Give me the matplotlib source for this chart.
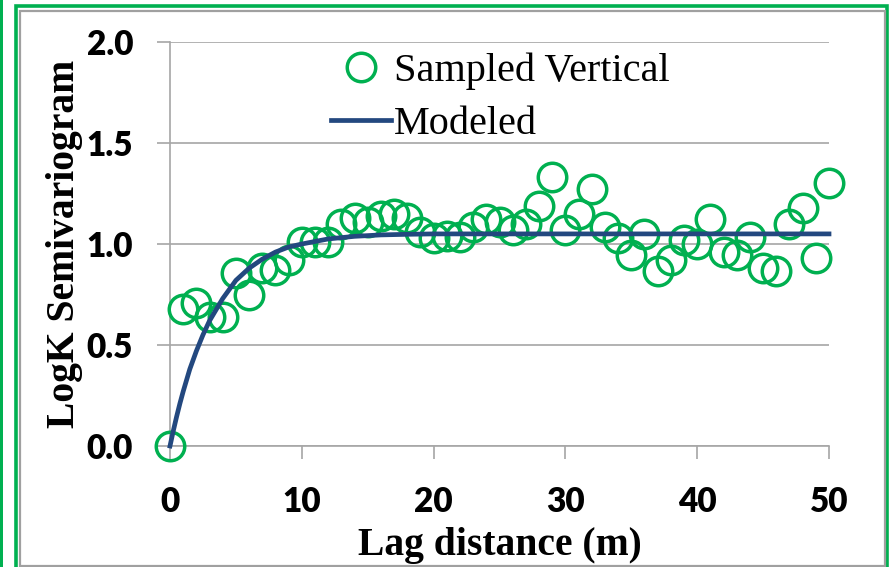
import matplotlib.pyplot as plt
from matplotlib.patches import Rectangle

# sampled semivariogram
lag = [0, 1, 2, 3, 4, 5, 6, 7, 8, 9, 10, 11, 12, 13, 14, 15, 16, 17, 18, 19,
       20, 21, 22, 23, 24, 25, 26, 27, 28, 29, 30, 31, 32, 33, 34, 35, 36, 37,
       38, 39, 40, 41, 42, 43, 44, 45, 46, 47, 48, 49, 50]
gamma = [0.0, 0.68, 0.71, 0.64, 0.64, 0.855, 0.75, 0.88, 0.87, 0.92, 1.01,
         1.01, 1.01, 1.10, 1.13, 1.11, 1.14, 1.15, 1.13, 1.06, 1.03, 1.04,
         1.035, 1.085, 1.125, 1.11, 1.07, 1.10, 1.19, 1.33, 1.07, 1.15, 1.27,
         1.085, 1.03, 0.945, 1.05, 0.865, 0.92, 1.02, 1.0, 1.125, 0.96, 0.945,
         1.035, 0.88, 0.865, 1.10, 1.18, 0.93, 1.30]

# modeled curve
model_lag = [0, 0.25, 0.5, 0.75, 1, 1.5, 2, 2.5, 3, 4, 5, 6, 7, 8, 9, 10,
             12, 14, 16, 18, 20, 30, 40, 50]
model_gamma = [0.0, 0.075, 0.145, 0.21, 0.27, 0.38, 0.47, 0.55, 0.62, 0.73,
               0.82, 0.88, 0.925, 0.96, 0.985, 1.0, 1.025, 1.038, 1.045,
               1.048, 1.05, 1.05, 1.05, 1.05]

xticks = [0, 10, 20, 30, 40, 50]
yticks = [0.0, 0.5, 1.0, 1.5, 2.0]

green = "#00B050"
navy = "#23487F"
grid_gray = "#A6A6A6"

fig = plt.figure(figsize=(8.91, 5.67), dpi=100)
ax = fig.add_axes([170 / 891, 1 - 446 / 567, 659 / 891, 404 / 567])

ax.plot(lag, gamma, linestyle="none", marker="o", markersize=20.5,
        markerfacecolor="none", markeredgecolor=green, markeredgewidth=2.5,
        label="Sampled Vertical", zorder=3, clip_on=False)
ax.plot(model_lag, model_gamma, color=navy, linewidth=3.4,
        label="Modeled", zorder=4, clip_on=False)

ax.set_xlim(0, 50)
ax.set_ylim(0, 2)
ax.set_xticks(xticks)
ax.set_yticks(yticks)
ax.set_xticklabels([str(t) for t in xticks])
ax.set_yticklabels([f"{t:.1f}" for t in yticks])

ax.grid(axis="y", color=grid_gray, linewidth=1.2)
ax.set_axisbelow(True)
for s in ["top", "right"]:
    ax.spines[s].set_visible(False)
for s in ["left", "bottom"]:
    ax.spines[s].set_color(grid_gray)
    ax.spines[s].set_linewidth(1.2)
    ax.spines[s].set_zorder(0.5)

ax.tick_params(axis="both", length=9.5, width=1.2, color=grid_gray,
               labelsize=24, direction="out")
ax.tick_params(axis="y", pad=17)
ax.tick_params(axis="x", pad=19)
for lbl in ax.get_xticklabels() + ax.get_yticklabels():
    lbl.set_fontfamily("Lato")
    lbl.set_fontweight("heavy")

ax.set_xlabel("Lag distance (m)", family="Liberation Serif", fontweight="bold",
              fontsize=28.5, labelpad=7)
ax.set_ylabel("LogK Semivariogram", family="Liberation Serif", fontweight="bold",
              fontsize=28.5, labelpad=3)

ax.legend(loc="upper left", bbox_to_anchor=(331 / 891, 1 - 53 / 567),
          bbox_transform=fig.transFigure, frameon=False,
          prop={"family": "Liberation Serif", "size": 29},
          handlelength=1.5, handletextpad=0.07, labelspacing=0.38,
          borderpad=0, borderaxespad=0)

# slide frame
fig.patches.append(Rectangle((0, 0), 3 / 891, 1, transform=fig.transFigure,
                             facecolor=green, edgecolor="none"))
fig.patches.append(Rectangle((15.5 / 891, -0.05), 871 / 891, 1.05 - 5.5 / 567,
                             transform=fig.transFigure, facecolor="none",
                             edgecolor=green, linewidth=2.6))
fig.patches.append(Rectangle((20 / 891, 1.5 / 567), 865 / 891, 1 - 12.5 / 567,
                             transform=fig.transFigure, facecolor="none",
                             edgecolor="#A0A0A0", linewidth=1.6))

fig.savefig("out.png", dpi=100)
